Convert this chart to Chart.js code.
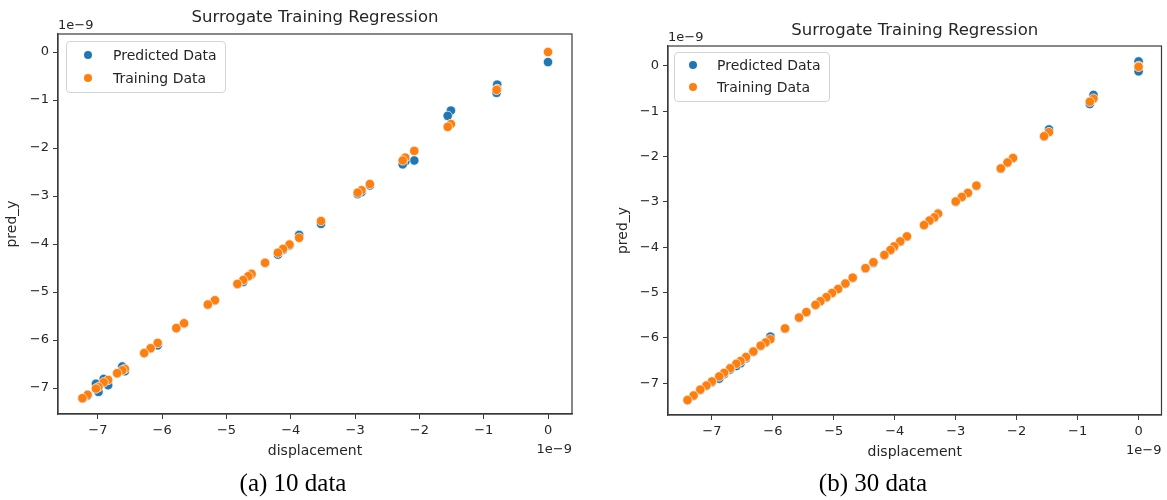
<!DOCTYPE html>
<html>
<head>
<meta charset="utf-8">
<script src="https://cdn.jsdelivr.net/npm/chart.js@4.4.1/dist/chart.umd.min.js"></script>
<style>
  html, body { margin: 0; padding: 0; background: #fff; }
  #wrap { position: relative; width: 1167px; height: 500px; overflow: hidden; }
  canvas { position: absolute; left: 0; top: 0; }
  .legend {
    position: absolute;
    background: rgba(255, 255, 255, 0.85);
    border: 1px solid #d4d4d4;
    border-radius: 4px;
    font-family: 'DejaVu Sans', sans-serif;
    font-size: 14px;
    color: #262626;
    padding: 1px 8px 3px 0;
    white-space: nowrap;
  }
  .legend .row { display: flex; align-items: center; }
  .legend .dot { display: inline-block; width: 8px; height: 8px; border-radius: 50%; }
  .caption {
    position: absolute;
    font-family: 'Liberation Serif', 'Times New Roman', serif;
    font-size: 25px;
    line-height: 28px;
    color: #000;
    transform: translateX(-50%);
    white-space: nowrap;
  }
</style>
</head>
<body>
<div id="wrap">
  <canvas id="chartA" width="1167" height="500"></canvas>
  <canvas id="chartB" width="1167" height="500"></canvas>
  <div class="legend" id="legendA"></div>
  <div class="legend" id="legendB"></div>
  <div class="caption" style="left:293px; top:469px;">(a) 10 data</div>
  <div class="caption" style="left:873px; top:469px;">(b) 30 data</div>
</div>
<script>
// ---- data (values in units of 1e-9) ----
const seriesLabels = ['Predicted Data', 'Training Data'];
const seriesColors = ['#1f77b4', '#ff7f0e'];
const axisTicks = [-7, -6, -5, -4, -3, -2, -1, 0];
const offsetText = '1e\u22129';

// (a) 10 data
const dispA = [0, -0.79, -0.80, -1.51, -1.56, -2.08, -2.22, -2.26, -2.77, -2.90, -2.96,
  -3.53, -3.87, -4.02, -4.12, -4.20, -4.40, -4.61, -4.66, -4.74, -4.83, -5.18, -5.29,
  -5.66, -5.78, -6.07, -6.18, -6.28, -6.58, -6.62, -6.70, -6.84, -6.91, -6.99, -7.03,
  -7.16, -7.24];
const trainA = [0, -0.77, -0.79, -1.50, -1.56, -2.06, -2.20, -2.26, -2.75, -2.88, -2.93,
  -3.52, -3.87, -4.01, -4.10, -4.18, -4.39, -4.62, -4.67, -4.75, -4.83, -5.17, -5.26,
  -5.65, -5.75, -6.06, -6.17, -6.27, -6.60, -6.63, -6.69, -6.83, -6.88, -6.98, -7.01,
  -7.14, -7.21];
const predA = [-0.21, -0.68, -0.85, -1.22, -1.33, -2.26, -2.28, -2.34, -2.78, -2.92, -2.96,
  -3.58, -3.81, -4.03, -4.12, -4.22, -4.40, -4.64, -4.68, -4.79, -4.84, -5.18, -5.27,
  -5.66, -5.76, -6.11, -6.18, -6.28, -6.65, -6.55, -6.70, -6.94, -6.81, -7.08, -6.91,
  -7.16, -7.22];

// (b) 30 data
const dispB = [0, 0, -0.74, -0.80, -1.47, -1.55, -2.06, -2.15, -2.26, -2.66, -2.80, -2.90,
  -3.00, -3.29, -3.35, -3.43, -3.52, -3.80, -3.91, -4.01, -4.07, -4.17, -4.35, -4.48,
  -4.69, -4.81, -4.93, -5.03, -5.12, -5.22, -5.30, -5.45, -5.57, -5.80, -6.04, -6.12,
  -6.20, -6.32, -6.44, -6.53, -6.60, -6.70, -6.80, -6.88, -7.00, -7.09, -7.19, -7.30,
  -7.40];
const trainB = [0, -0.02, -0.72, -0.79, -1.46, -1.55, -2.03, -2.13, -2.26, -2.64, -2.80, -2.89,
  -2.99, -3.26, -3.34, -3.41, -3.51, -3.76, -3.87, -3.98, -4.06, -4.17, -4.33, -4.46,
  -4.67, -4.80, -4.92, -5.01, -5.10, -5.19, -5.27, -5.43, -5.55, -5.79, -6.03, -6.10,
  -6.17, -6.30, -6.42, -6.51, -6.57, -6.67, -6.77, -6.85, -6.96, -7.05, -7.14, -7.27,
  -7.37];
const predB = [0.10, -0.12, -0.64, -0.84, -1.40, -1.56, -2.04, -2.14, -2.27, -2.65, -2.81, -2.90,
  -3.00, -3.25, -3.35, -3.42, -3.52, -3.77, -3.88, -4.00, -4.07, -4.18, -4.35, -4.47,
  -4.68, -4.81, -4.93, -5.02, -5.11, -5.20, -5.28, -5.44, -5.56, -5.80, -5.97, -6.11,
  -6.18, -6.31, -6.45, -6.56, -6.62, -6.70, -6.80, -6.90, -6.98, -7.06, -7.15, -7.28,
  -7.38];

// ---- helpers ----
const FONT = "'DejaVu Sans', sans-serif";
const TEXT = '#262626';
const AXIS = '#3a3a3a';

function fmt(v) {
  return v < 0 ? '\u2212' + Math.abs(v) : String(v);
}

function points(xs, ys) {
  return xs.map((x, i) => ({ x: x, y: ys[i] }));
}

// draws title, frame and the 1e-9 offset labels
const overlayPlugin = {
  id: 'overlay',
  afterDraw(chart, args, opts) {
    const ctx = chart.ctx;
    const a = chart.chartArea;
    ctx.save();
    ctx.strokeStyle = AXIS;
    ctx.lineWidth = 1.2;
    ctx.strokeRect(a.left, a.top, a.right - a.left, a.bottom - a.top);

    ctx.fillStyle = TEXT;
    ctx.font = '16.5px ' + FONT;
    ctx.textAlign = 'center';
    ctx.textBaseline = 'middle';
    ctx.fillText(opts.title, (a.left + a.right) / 2, a.top - opts.titleGap);

    ctx.font = '13px ' + FONT;
    ctx.textAlign = 'left';
    ctx.fillText(offsetText, a.left, a.top - 8);
    ctx.textAlign = 'right';
    ctx.fillText(offsetText, a.right, a.bottom + 36);
    ctx.restore();
  }
};

function makeChart(id, xs, train, pred, box) {
  const tickFont = { family: FONT, size: 13 };
  const labelFont = { family: FONT, size: 14 };
  const scaleCommon = (min, max) => ({
    type: 'linear',
    min: min,
    max: max,
    afterBuildTicks: s => { s.ticks = axisTicks.map(v => ({ value: v })); },
    ticks: { color: TEXT, font: tickFont, padding: 4, callback: v => fmt(v) },
    grid: { drawOnChartArea: false, drawTicks: true, tickLength: 5, color: AXIS, tickColor: AXIS },
    border: { display: true, color: AXIS, width: 1.2 }
  });

  const xScale = scaleCommon(box.xMin, box.xMax);
  xScale.title = { display: true, text: 'displacement', color: TEXT, font: labelFont, padding: 0 };
  xScale.afterFit = s => { s.height = box.xAxisH; };

  const yScale = scaleCommon(box.yMin, box.yMax);
  yScale.title = { display: true, text: 'pred_y', color: TEXT, font: labelFont, padding: 0 };
  yScale.afterFit = s => { s.width = box.yAxisW; };

  const pointStyle = {
    pointRadius: 4.7,
    pointHoverRadius: 4.7,
    borderColor: 'rgba(255,255,255,0.85)',
    borderWidth: 0.8
  };

  return new Chart(document.getElementById(id).getContext('2d'), {
    type: 'scatter',
    data: {
      datasets: [
        { label: seriesLabels[0], data: points(xs, pred), backgroundColor: seriesColors[0], order: 1, ...pointStyle },
        { label: seriesLabels[1], data: points(xs, train), backgroundColor: seriesColors[1], order: 0, ...pointStyle }
      ]
    },
    options: {
      responsive: false,
      animation: false,
      layout: { padding: box.padding },
      scales: { x: xScale, y: yScale },
      plugins: {
        legend: { display: false },
        tooltip: { enabled: false },
        overlay: { title: 'Surrogate Training Regression', titleGap: box.titleGap }
      }
    },
    plugins: [overlayPlugin]
  });
}

function buildLegend(id, chart, pos) {
  const el = document.getElementById(id);
  el.style.left = pos.left + 'px';
  el.style.top = pos.top + 'px';
  el.style.paddingLeft = pos.padLeft + 'px';
  chart.data.datasets.forEach(ds => {
    const row = document.createElement('div');
    row.className = 'row';
    row.style.height = pos.rowH + 'px';
    const dot = document.createElement('span');
    dot.className = 'dot';
    dot.style.background = ds.backgroundColor;
    dot.style.marginRight = pos.gap + 'px';
    const txt = document.createElement('span');
    txt.textContent = ds.label;
    row.appendChild(dot);
    row.appendChild(txt);
    el.appendChild(row);
  });
}

// left chart: plot area 58..572 x 34..414
const chartA = makeChart('chartA', dispA, trainA, predA, {
  xMin: -7.62, xMax: 0.373, yMin: -7.54, yMax: 0.375,
  padding: { left: 4, top: 34, right: 1167 - 572, bottom: 40 },
  yAxisW: 54, xAxisH: 46, titleGap: 16
});
// right chart: plot area 668..1163 x 46..415
const chartB = makeChart('chartB', dispB, trainB, predB, {
  xMin: -7.72, xMax: 0.376, yMin: -7.70, yMax: 0.44,
  padding: { left: 615, top: 46, right: 4, bottom: 39 },
  yAxisW: 53, xAxisH: 46, titleGap: 15
});

buildLegend('legendA', chartA, { left: 66, top: 41, padLeft: 17, rowH: 23, gap: 21 });
buildLegend('legendB', chartB, { left: 674, top: 52, padLeft: 14, rowH: 22, gap: 20 });
</script>
</body>
</html>
